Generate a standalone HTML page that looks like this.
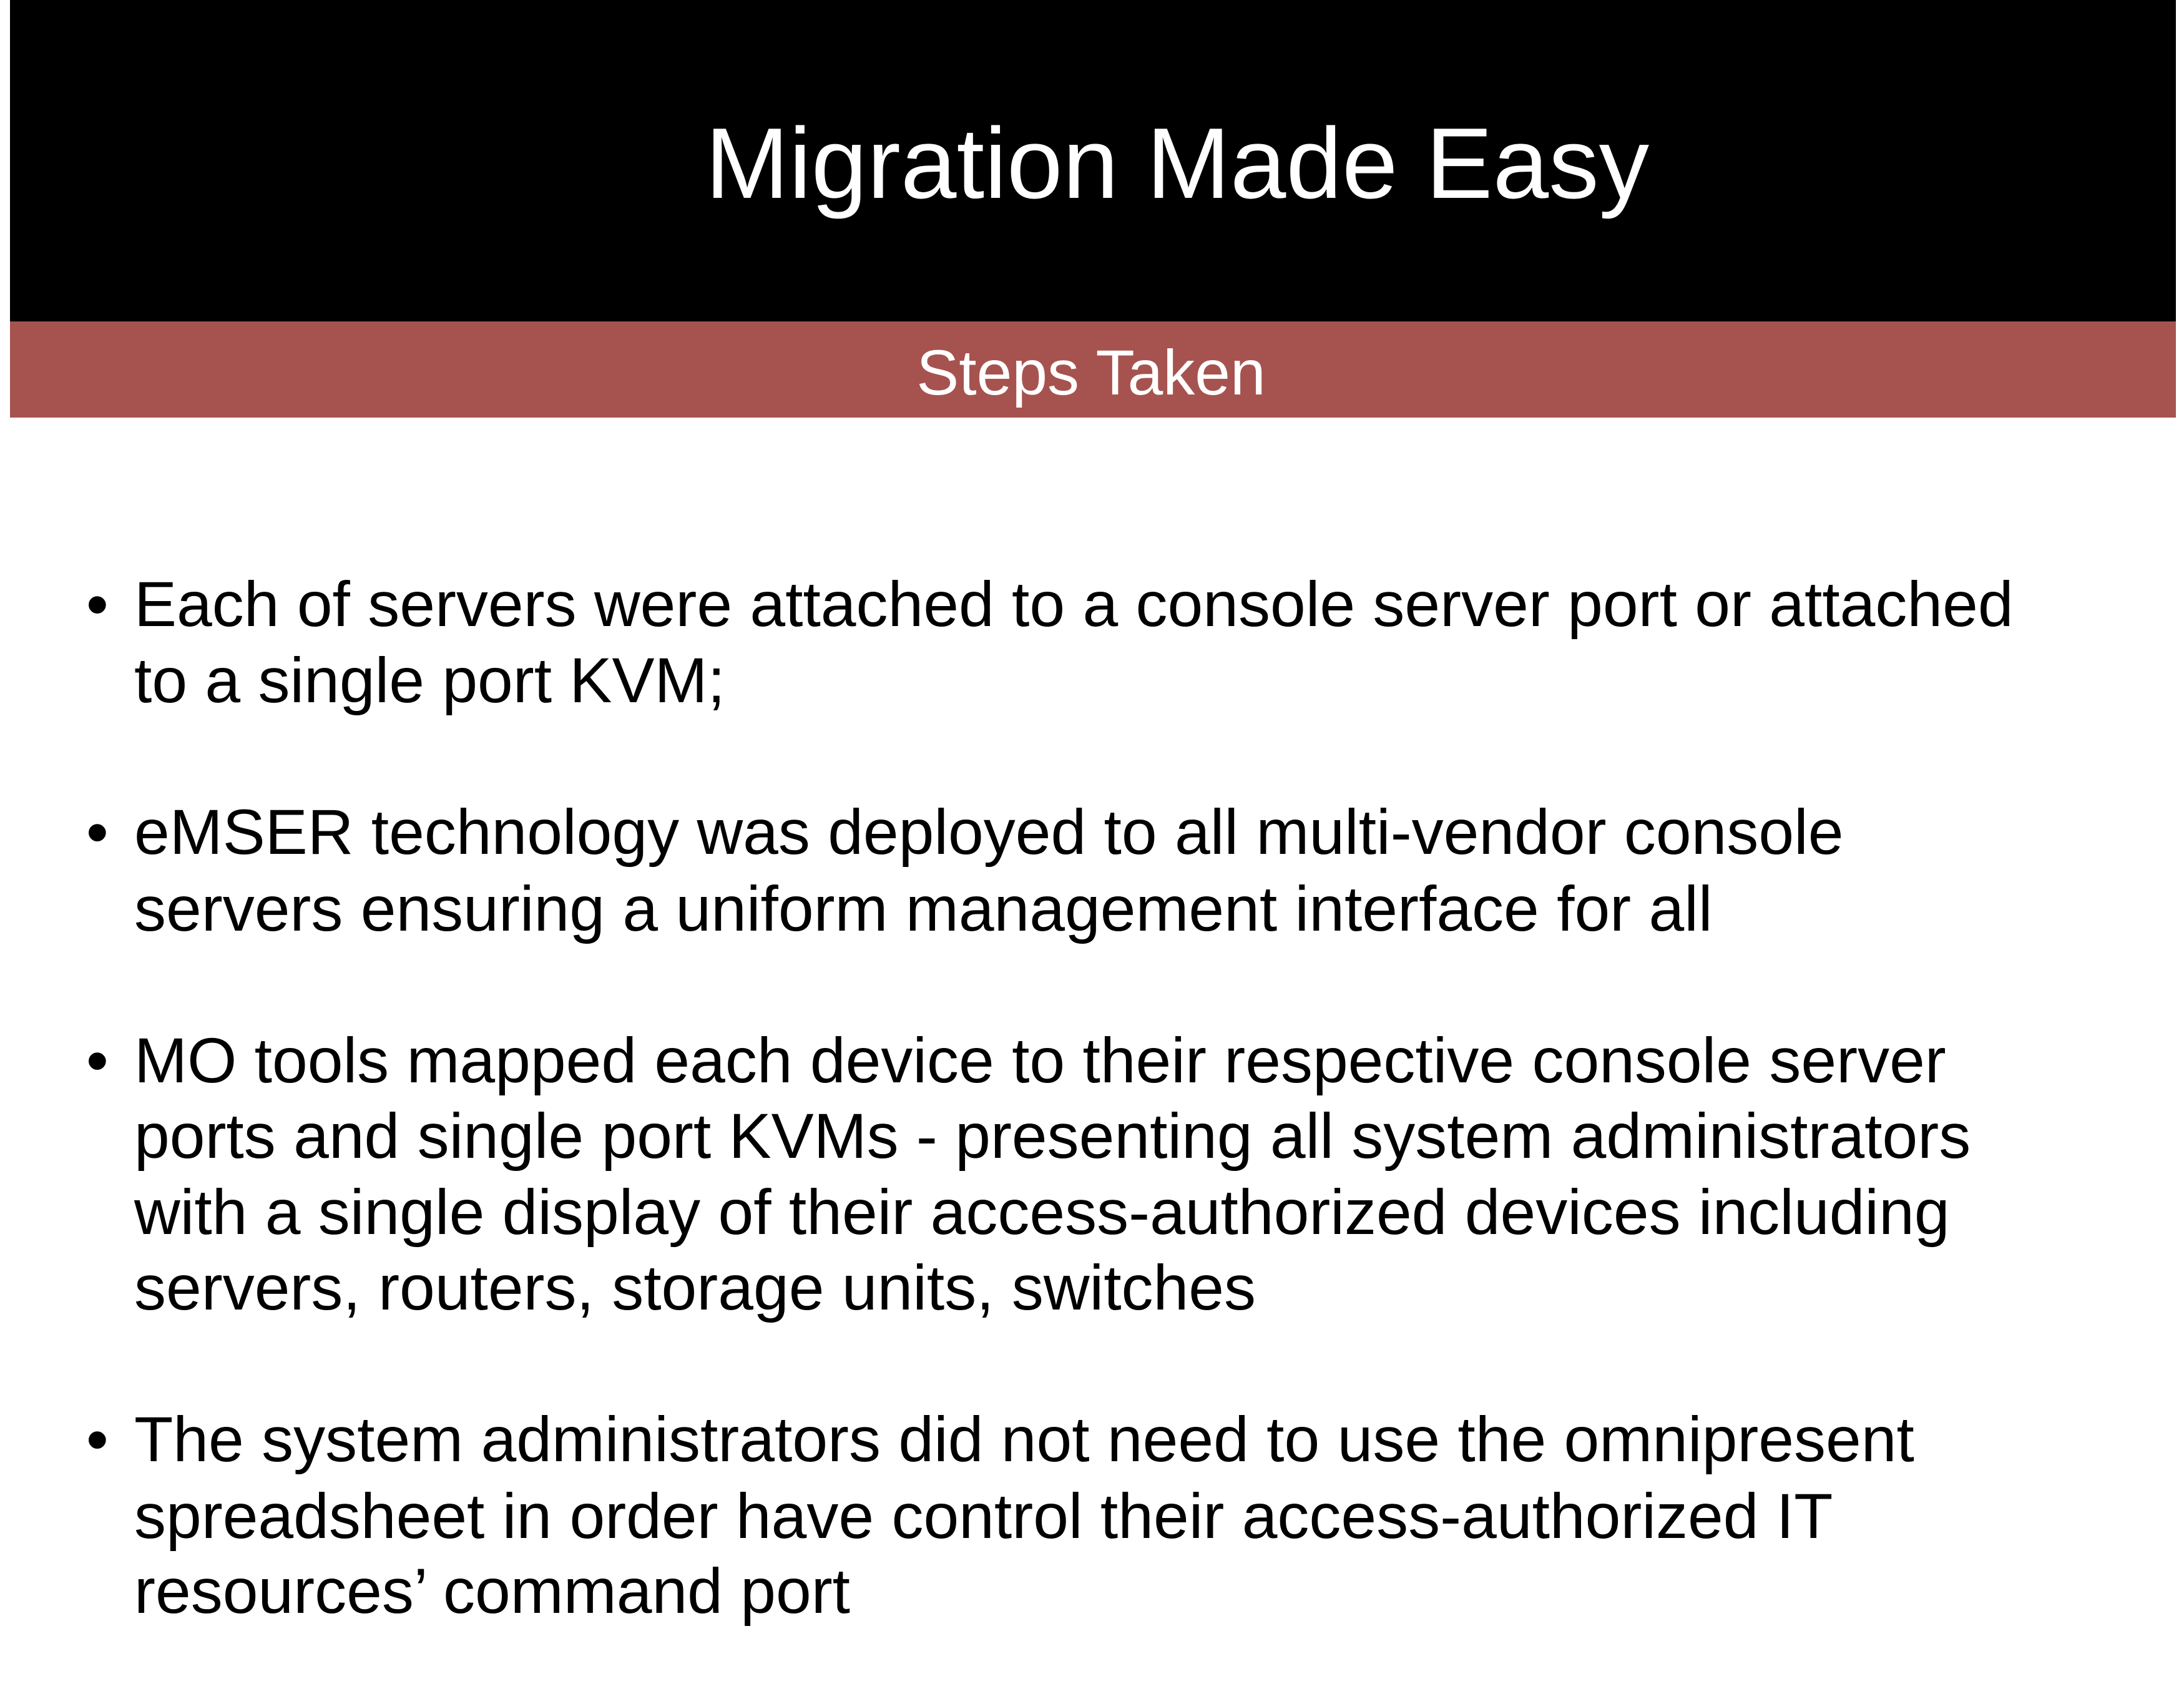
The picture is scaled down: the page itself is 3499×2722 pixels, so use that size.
<!DOCTYPE html>
<html><head><meta charset="utf-8"><style>
html,body{margin:0;padding:0;background:#fff;}
body{width:3499px;height:2722px;position:relative;overflow:hidden;font-family:"Liberation Sans",Arial,sans-serif;}
.hdr{position:absolute;left:16px;top:0;width:3470px;height:515px;background:#000;}
.band{position:absolute;left:16px;top:515px;width:3470px;height:154px;background:#A65350;}
.t{position:absolute;white-space:nowrap;line-height:1;}
.title{color:#fff;font-size:161px;left:0;width:3772px;text-align:center;top:182px;}
.sub{color:#fff;font-size:102px;left:0;width:3496px;text-align:center;top:546px;}
.l{font-size:102px;left:215px;color:#000;}
.b{font-size:102px;left:138px;color:#000;}
</style></head><body>
<div class="hdr"></div>
<div class="band"></div>
<div class="t title">Migration Made Easy</div>
<div class="t sub">Steps Taken</div>

<div class="t b" style="top:917px">•</div>
<div class="t l" style="top:917px">Each of servers were attached to a console server port or attached</div>
<div class="t l" style="top:1039px">to a single port KVM;</div>

<div class="t b" style="top:1282px">•</div>
<div class="t l" style="top:1282px">eMSER technology was deployed to all multi-vendor console</div>
<div class="t l" style="top:1405px">servers ensuring a uniform management interface for all</div>

<div class="t b" style="top:1648px">•</div>
<div class="t l" style="top:1648px">MO tools mapped each device to their respective console server</div>
<div class="t l" style="top:1769px">ports and single port KVMs - presenting all system administrators</div>
<div class="t l" style="top:1891px">with a single display of their access-authorized devices including</div>
<div class="t l" style="top:2012px">servers, routers, storage units, switches</div>

<div class="t b" style="top:2255px">•</div>
<div class="t l" style="top:2255px">The system administrators did not need to use the omnipresent</div>
<div class="t l" style="top:2378px">spreadsheet in order have control their access-authorized IT</div>
<div class="t l" style="top:2498px">resources’ command port</div>
</body></html>
